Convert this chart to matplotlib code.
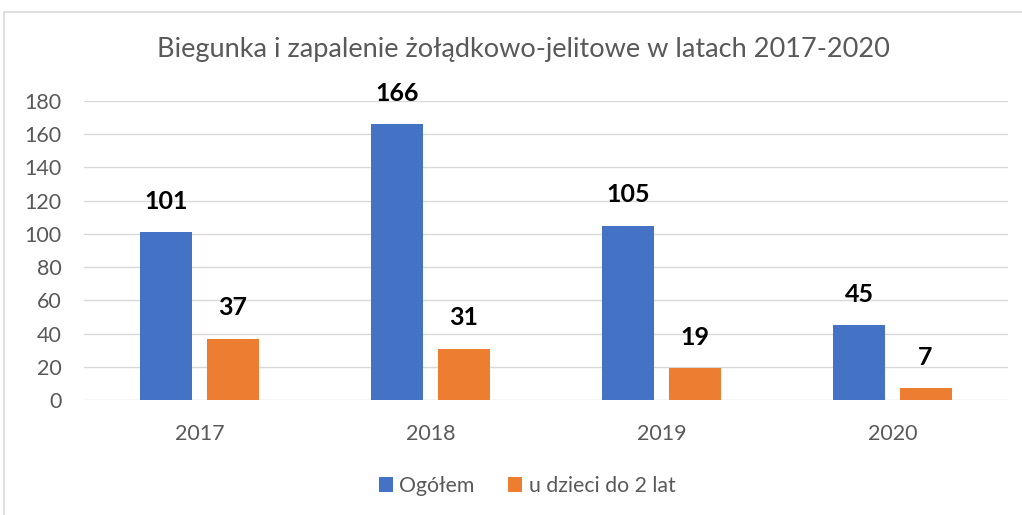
import matplotlib.pyplot as plt
from matplotlib.patches import Rectangle
import numpy as np

years = ["2017", "2018", "2019", "2020"]
ogolem = [101, 166, 105, 45]
dzieci = [37, 31, 19, 7]

plt.rcParams['font.family'] = ['Lato', 'DejaVu Sans']

fig = plt.figure(figsize=(10.22, 5.15), dpi=100)
ax = fig.add_axes([84 / 1022, 1 - 400 / 515, 924 / 1022, 299 / 515])

x = np.arange(len(years))
w = 0.225
off = 0.143
b1 = ax.bar(x - off, ogolem, w, color='#4472c4', label='Ogółem')
b2 = ax.bar(x + off, dzieci, w, color='#ed7d31', label='u dzieci do 2 lat')

for bars, vals in ((b1, ogolem), (b2, dzieci)):
    for b, v in zip(bars, vals):
        ax.annotate(str(v), (b.get_x() + b.get_width() / 2, v), xytext=(0, 14),
                    textcoords='offset points', ha='center', va='bottom',
                    fontsize=18, fontweight='bold', color='black')

ax.set_xlim(-0.5, 3.5)
ax.set_ylim(0, 180)
ax.set_yticks(range(0, 181, 20))
ax.set_xticks(x)
ax.set_xticklabels(years)
ax.grid(axis='y', color='#d9d9d9', linewidth=1)
ax.set_axisbelow(True)
for s in ax.spines.values():
    s.set_visible(False)
ax.tick_params(length=0, labelsize=15.5, colors='#595959', pad=16)
ax.tick_params(axis='x', pad=17)

fig.text(523 / 1022, 1 - 50 / 515, 'Biegunka i zapalenie żołądkowo-jelitowe w latach 2017-2020',
         ha='center', va='center', fontsize=19.5, color='#595959')

fig.legend(handles=[b1, b2], loc='center', bbox_to_anchor=(527 / 1022, 1 - 486 / 515),
           ncol=2, frameon=False, fontsize=15.3, labelcolor='#595959',
           handlelength=0.65, handleheight=0.65, handletextpad=0.3, columnspacing=1.6)

fig.patches.append(Rectangle((4 / 1022, -0.1), 1.2, 1.1 - 12 / 515, transform=fig.transFigure,
                             fill=False, edgecolor='#d9d9d9', linewidth=1.2))

fig.savefig('out.png', dpi=100)
